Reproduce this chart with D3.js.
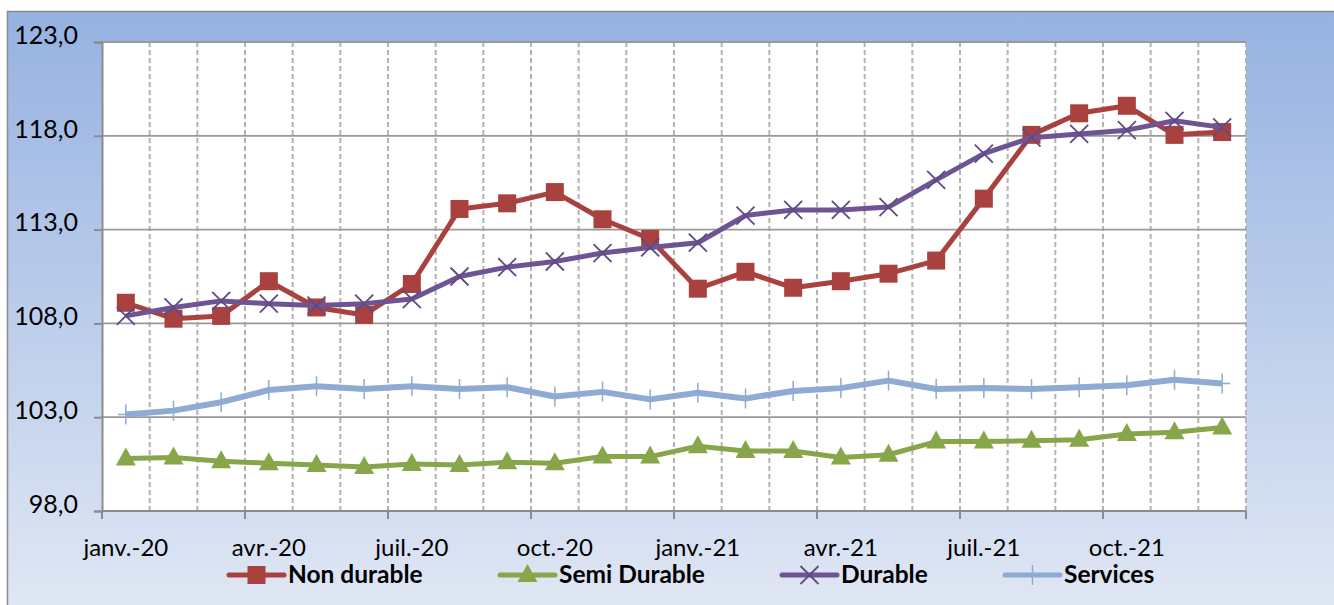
<!DOCTYPE html>
<html lang="fr">
<head>
    <meta charset="UTF-8">
    <title>Indices par type de bien</title>
    <script src="https://d3js.org/d3.v7.min.js"></script>
    <style>
        body {
            margin: 0;
            background-color: #ffffff;
            font-family: Lato, "Open Sans", sans-serif;
        }
        .tick text {
            font-size: 25px;
            fill: #000;
        }
        .legend text {
            font-size: 24.5px;
            font-weight: bold;
            fill: #000;
        }
    </style>
</head>
<body>
    <div id="chart"></div>
    <script>
        const months = ["janv.-20", "févr.-20", "mars-20", "avr.-20", "mai-20", "juin-20",
            "juil.-20", "août-20", "sept.-20", "oct.-20", "nov.-20", "déc.-20",
            "janv.-21", "févr.-21", "mars-21", "avr.-21", "mai-21", "juin-21",
            "juil.-21", "août-21", "sept.-21", "oct.-21", "nov.-21", "déc.-21"];

        const nonDurable = [109.1, 108.25, 108.4, 110.25, 108.85, 108.45, 110.1, 114.1, 114.4, 115.0, 113.55, 112.5,
            109.85, 110.75, 109.9, 110.25, 110.65, 111.35, 114.65, 118.05, 119.2, 119.6, 118.05, 118.2];
        const semiDurable = [100.8, 100.85, 100.65, 100.55, 100.45, 100.35, 100.5, 100.45, 100.6, 100.55, 100.9, 100.9,
            101.45, 101.2, 101.2, 100.85, 101.0, 101.7, 101.7, 101.75, 101.8, 102.1, 102.2, 102.45];
        const durable = [108.4, 108.85, 109.2, 109.05, 108.95, 109.05, 109.3, 110.5, 111.0, 111.3, 111.75, 112.05,
            112.3, 113.75, 114.05, 114.05, 114.2, 115.65, 117.05, 117.9, 118.1, 118.3, 118.8, 118.45];
        const services = [103.15, 103.35, 103.8, 104.45, 104.65, 104.5, 104.65, 104.5, 104.6, 104.1, 104.35, 103.95,
            104.3, 104.0, 104.4, 104.55, 104.95, 104.5, 104.55, 104.5, 104.6, 104.7, 105.0, 104.8];

        const seriesNames = ["Non durable", "Semi Durable", "Durable", "Services"];
        const seriesColors = ["#a9423f", "#87a64a", "#6f5494", "#8faad3"];
        const seriesMarkers = ["square", "triangle", "cross", "plus"];
        const yTicks = [98, 103, 108, 113, 118, 123];

        const width = 1334, height = 605;
        const margin = {top: 42, right: 88, bottom: 94, left: 102};

        const svg = d3.select("#chart").append("svg")
            .attr("width", width)
            .attr("height", height);

        const defs = svg.append("defs");
        const grad = defs.append("linearGradient")
            .attr("id", "bg")
            .attr("x1", 0).attr("y1", 0).attr("x2", 0).attr("y2", 1);
        grad.append("stop").attr("offset", "0%").attr("stop-color", "#96b2e1");
        grad.append("stop").attr("offset", "100%").attr("stop-color", "#e0e7f4");

        svg.append("rect")
            .attr("x", 7.5).attr("y", 11.5)
            .attr("width", width - 6).attr("height", height - 8)
            .attr("fill", "url(#bg)")
            .attr("stroke", "#8c8c8c")
            .attr("stroke-width", 1.5);

        const x = d3.scaleBand()
            .domain(months)
            .range([margin.left, width - margin.right]);

        const y = d3.scaleLinear()
            .domain([98, 123])
            .range([height - margin.bottom, margin.top]);

        svg.append("rect")
            .attr("x", margin.left).attr("y", margin.top)
            .attr("width", width - margin.left - margin.right)
            .attr("height", height - margin.top - margin.bottom)
            .attr("fill", "#fff");

        // vertical dashed gridlines at category boundaries
        svg.append("g").selectAll("line")
            .data(months.slice(1).concat(["end"]))
            .join("line")
            .attr("x1", (d, i) => x(months[0]) + x.step() * (i + 1))
            .attr("x2", (d, i) => x(months[0]) + x.step() * (i + 1))
            .attr("y1", margin.top)
            .attr("y2", height - margin.bottom)
            .attr("stroke", "#b3b3b3")
            .attr("stroke-width", 2)
            .attr("stroke-dasharray", "5,3");

        // horizontal gridlines
        svg.append("g").selectAll("line")
            .data(yTicks)
            .join("line")
            .attr("x1", margin.left)
            .attr("x2", width - margin.right)
            .attr("y1", d => y(d))
            .attr("y2", d => y(d))
            .attr("stroke", "#999")
            .attr("stroke-width", 1.8);

        // y axis
        const yAxis = svg.append("g")
            .attr("transform", `translate(${margin.left},0)`)
            .call(d3.axisLeft(y).tickValues(yTicks).tickSize(8).tickPadding(16)
                .tickFormat(d => d3.format(".1f")(d).replace(".", ",")));
        yAxis.select(".domain").attr("stroke", "#8c8c8c").attr("stroke-width", 2);
        yAxis.selectAll(".tick line").attr("stroke", "#8c8c8c").attr("stroke-width", 2);
        yAxis.selectAll(".tick text").style("font-family", "Lato, sans-serif").attr("dy", "0.05em");

        // x axis: ticks at boundaries every 3 months, labels at category centers
        const xg = svg.append("g");
        const bottom = height - margin.bottom;
        xg.append("line")
            .attr("x1", margin.left).attr("x2", width - margin.right)
            .attr("y1", bottom).attr("y2", bottom)
            .attr("stroke", "#8c8c8c").attr("stroke-width", 2);
        const quarterly = months.filter((d, i) => i % 3 === 0).concat(["end"]);
        xg.selectAll(".xt")
            .data(quarterly)
            .join("line")
            .attr("class", "xt")
            .attr("x1", d => d === "end" ? width - margin.right : x(d))
            .attr("x2", d => d === "end" ? width - margin.right : x(d))
            .attr("y1", bottom).attr("y2", bottom + 8)
            .attr("stroke", "#8c8c8c").attr("stroke-width", 2);
        xg.selectAll("text")
            .data(months.filter((d, i) => i % 3 === 0))
            .join("text")
            .attr("x", d => x(d) + x.bandwidth() / 2)
            .attr("y", bottom + 45)
            .attr("text-anchor", "middle")
            .style("font-size", "24px")
            .style("font-family", "Lato, sans-serif")
            .text(d => d);

        const allSeries = [nonDurable, semiDurable, durable, services];
        const cx = (d, i) => x(months[i]) + x.bandwidth() / 2;

        function drawMarker(g, type, color) {
            if (type === "square") {
                g.append("rect").attr("x", -9).attr("y", -9).attr("width", 18).attr("height", 18)
                    .attr("fill", color);
            } else if (type === "triangle") {
                g.append("path").attr("d", "M0,-11 L10,7 L-10,7 Z").attr("fill", color);
            } else if (type === "cross") {
                g.append("path").attr("d", "M-9,-9 L9,9 M-9,9 L9,-9")
                    .attr("stroke", color).attr("stroke-width", 1.8).attr("fill", "none");
            } else if (type === "plus") {
                g.append("path").attr("d", "M0,-10 L0,10 M-8,0 L8,0")
                    .attr("stroke", color).attr("stroke-width", 1.5).attr("fill", "none");
            }
        }

        const line = d3.line().x(cx).y(d => y(d));

        // purple sits over red in the picture
        const order = [3, 1, 0, 2];
        order.forEach(k => {
            const vals = allSeries[k];
            const g = svg.append("g");
            g.append("path")
                .datum(vals)
                .attr("d", line)
                .attr("fill", "none")
                .attr("stroke", seriesColors[k])
                .attr("stroke-width", k === 3 ? 6 : 5)
                .attr("stroke-linejoin", "round");
            vals.forEach((v, i) => {
                const m = g.append("g").attr("transform", `translate(${cx(v, i)},${y(v)})`);
                drawMarker(m, seriesMarkers[k], k === 2 ? "#5f4a86" : seriesColors[k]);
            });
        });

        // legend
        const legendX = [229, 500, 782, 1005];
        const legend = svg.append("g").attr("class", "legend");
        seriesNames.forEach((name, k) => {
            const lg = legend.append("g").attr("transform", `translate(${legendX[k]},575)`);
            lg.append("line")
                .attr("x1", 0).attr("x2", 55)
                .attr("stroke", seriesColors[k])
                .attr("stroke-width", 5)
                .attr("stroke-linecap", "round");
            const m = lg.append("g").attr("transform", "translate(27.5,0)");
            drawMarker(m, seriesMarkers[k], k === 2 ? "#5f4a86" : seriesColors[k]);
            lg.append("text")
                .attr("x", 59)
                .attr("y", 8)
                .style("font-family", "Lato, sans-serif")
                .text(name);
        });
    </script>
</body>
</html>
